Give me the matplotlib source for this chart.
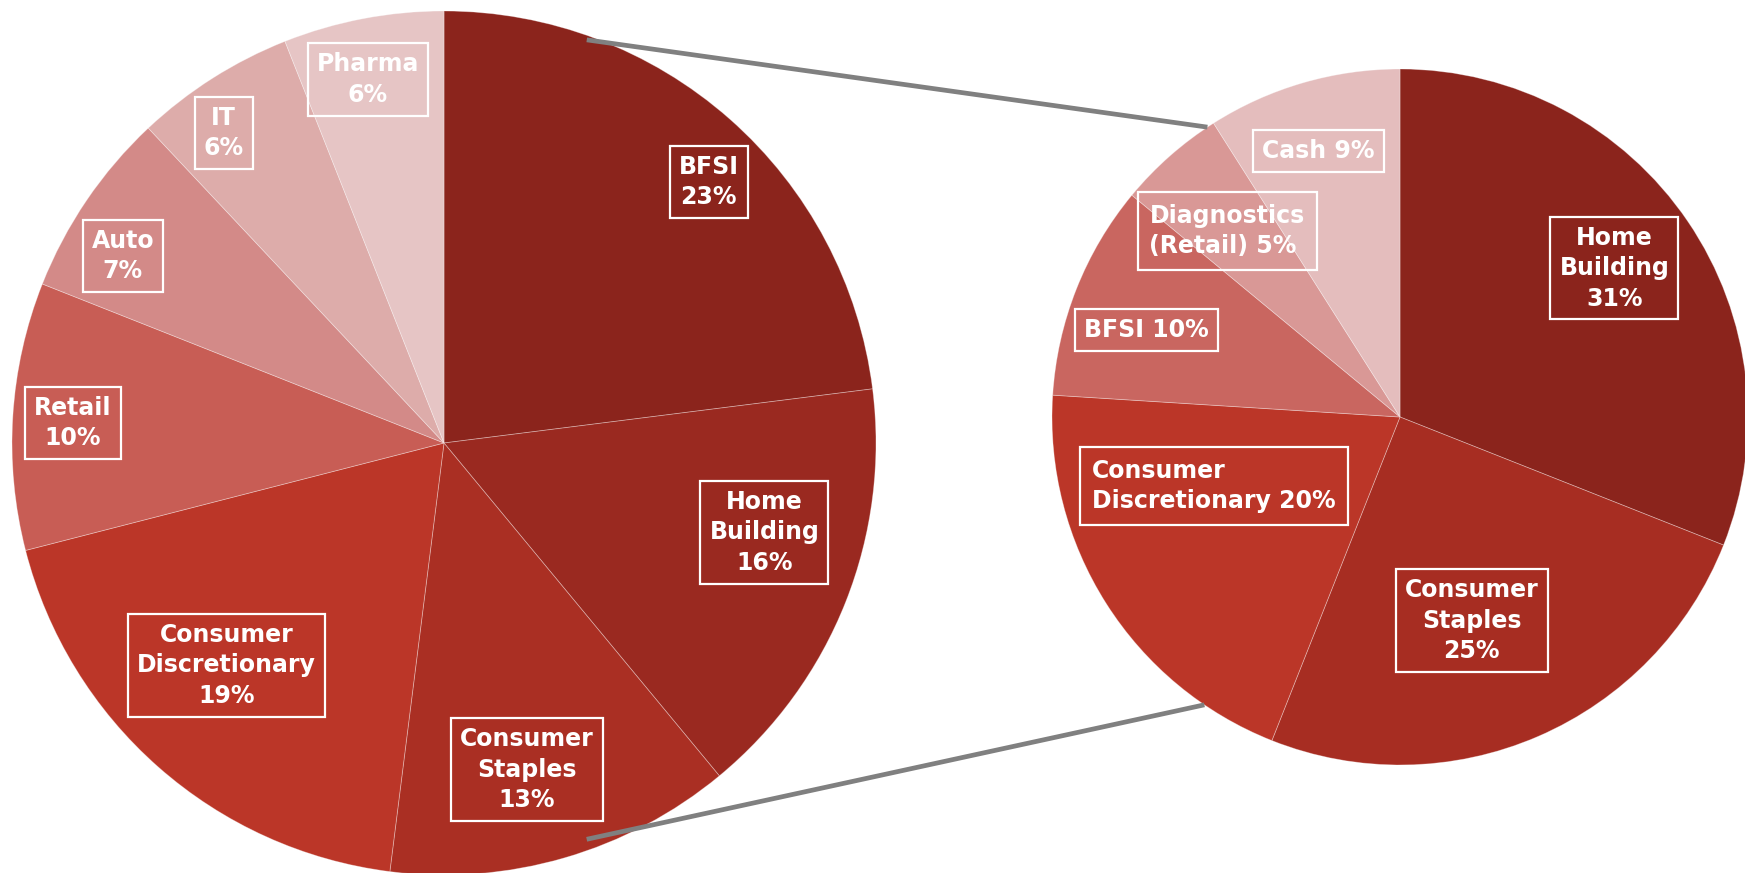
import numpy as np
import matplotlib
matplotlib.use("Agg")
from matplotlib import pyplot as plt

# left pie: sector split
left_names = ['BFSI\n23%', 'Home\nBuilding\n16%', 'Consumer\nStaples\n13%',
              'Consumer\nDiscretionary\n19%', 'Retail\n10%', 'Auto\n7%', 'IT\n6%', 'Pharma\n6%']
left_vals = [23, 16, 13, 19, 10, 7, 6, 6]
left_colors = ['#8B241C', '#9A2920', '#AA2F23', '#BB3628', '#C85D55', '#D38A88', '#DDACAA', '#E6C5C5']
left_dist = [0.86, 0.77, 0.78, 0.72, 0.86, 0.86, 0.88, 0.86]
left_nudge = [-4, 6, -2, -3, 0.5, 4, 3, 1]

# right pie: breakdown
right_names = ['Home\nBuilding\n31%', 'Consumer\nStaples\n25%', 'Consumer\nDiscretionary 20%',
               'BFSI 10%', 'Diagnostics\n(Retail) 5%', 'Cash 9%']
right_vals = [31, 25, 20, 10, 5, 9]
right_colors = ['#8B241C', '#A72D22', '#BB3628', '#C96660', '#D99896', '#E4BDBD']
right_dist = [0.75, 0.62, 0.57, 0.77, 0.73, 0.80]
right_nudge = [0.6, -4, -12, 2.6, 1.5, 0.8]
right_align = ['center', 'center', 'left', 'center', 'left', 'center']

W, H = 1745, 873
fig = plt.figure(figsize=(W / 100, H / 100), dpi=100)
ax = fig.add_axes([0, 0, 1, 1])
ax.set_xlim(0, W)
ax.set_ylim(0, H)
ax.set_aspect('equal')
ax.axis('off')

lc, lr = (444, H - 443), 432
rc, rr = (1400, H - 417), 348


def draw_pie(vals, colors, names, center, radius, dist, nudge, align=None):
    ax.pie(vals, colors=colors, startangle=90, counterclock=False,
           center=center, radius=radius,
           wedgeprops=dict(edgecolor=(1, 1, 1, 0.35), linewidth=0.6))
    cum = np.cumsum([0] + vals) / sum(vals)
    for i, name in enumerate(names):
        mid = 90 - 360 * (cum[i] + cum[i + 1]) / 2 + nudge[i]
        a = np.radians(mid)
        x = center[0] + dist[i] * radius * np.cos(a)
        y = center[1] + dist[i] * radius * np.sin(a)
        ma = align[i] if align else 'center'
        pad = 0.5 if ma == 'left' else 0.38
        ax.text(x, y, name, ha='center', va='center', multialignment=ma,
                color='white', fontsize=17, fontweight='bold', family='DejaVu Sans',
                linespacing=1.34, zorder=5,
                bbox=dict(boxstyle='square,pad=%.2f' % pad, fc='none', ec='white', lw=1.6))


draw_pie(left_vals, left_colors, left_names, lc, lr, left_dist, left_nudge)
draw_pie(right_vals, right_colors, right_names, rc, rr, right_dist, right_nudge, right_align)

# connector lines
for la, ra, f in [(70.5, 123.6, 0.99), (-70.2, -124.2, 0.975)]:
    x0 = lc[0] + f * lr * np.cos(np.radians(la))
    y0 = lc[1] + f * lr * np.sin(np.radians(la))
    x1 = rc[0] + rr * np.cos(np.radians(ra))
    y1 = rc[1] + rr * np.sin(np.radians(ra))
    ax.plot([x0, x1], [y0, y1], color='#808080', lw=3.4, zorder=6, solid_capstyle='butt')

ax.set_xlim(0, W)
ax.set_ylim(0, H)
fig.savefig('out.png', dpi=100)
